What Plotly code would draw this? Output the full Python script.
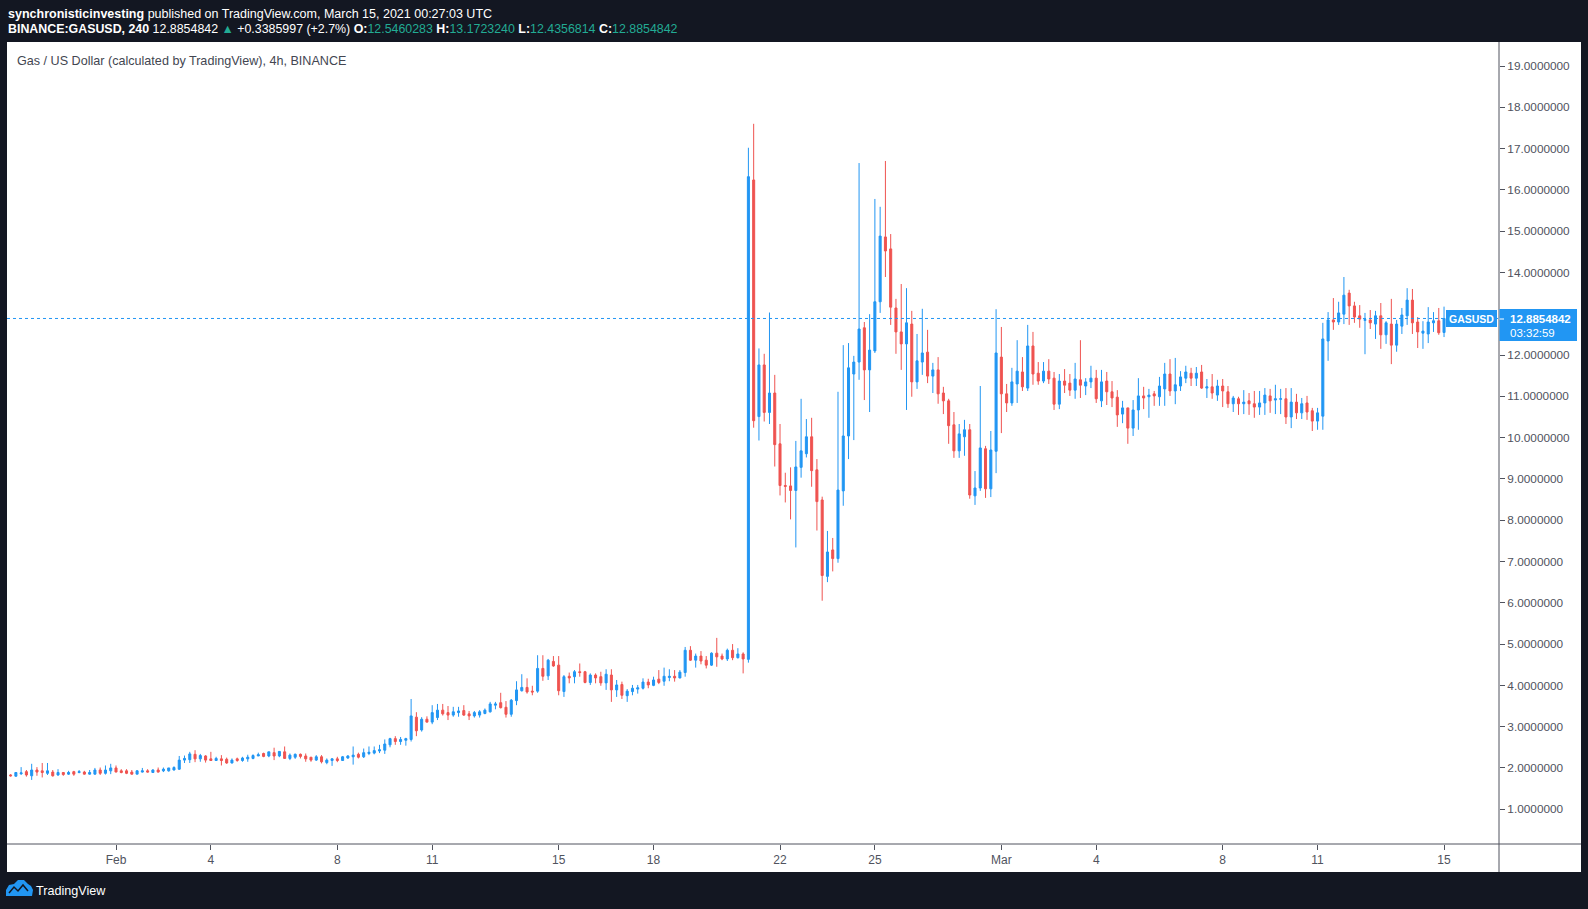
import pandas as pd
import plotly.graph_objects as go

# ---------------- data (4h candles, GAS/USD) ----------------
start_time = "2021-01-28 16:00"
opens = [1.83,1.80,1.86,1.91,1.81,1.95,1.93,1.87,1.90,1.83,1.89,1.85,1.91,1.89,1.90,1.85,1.85,1.95,1.87,1.93,
 2.00,1.93,1.93,1.90,1.85,1.90,1.93,1.89,1.95,1.93,1.93,1.95,1.97,2.19,2.20,2.33,2.22,2.29,2.22,2.18,
 2.22,2.21,2.12,2.22,2.18,2.22,2.23,2.29,2.35,2.29,2.37,2.29,2.39,2.23,2.26,2.33,2.29,2.26,2.19,2.27,
 2.13,2.18,2.22,2.18,2.24,2.27,2.33,2.27,2.35,2.36,2.41,2.43,2.56,2.71,2.64,2.67,2.69,3.23,2.92,3.18,
 3.11,3.22,3.40,3.34,3.28,3.34,3.39,3.31,3.26,3.28,3.32,3.36,3.52,3.58,3.47,3.30,3.63,3.87,3.95,3.86,
 3.86,4.41,4.23,4.58,4.49,3.85,4.22,4.21,4.33,4.33,4.07,4.25,4.21,4.06,4.25,3.89,4.02,3.75,3.85,3.91,
 3.93,4.08,4.00,4.15,4.10,4.19,4.22,4.18,4.31,4.85,4.61,4.71,4.61,4.49,4.78,4.71,4.64,4.85,4.67,4.76,
 4.63,16.24,10.51,11.76,10.61,11.08,9.85,8.84,8.83,8.72,9.28,9.61,10.02,9.22,8.49,6.64,7.28,7.07,8.71,10.04,
 11.54,11.83,12.66,11.64,12.10,13.29,14.86,14.57,13.14,12.56,12.27,12.75,11.35,11.83,12.07,11.49,11.64,11.08,10.89,10.31,
 9.68,10.02,10.19,8.59,8.78,9.73,8.76,9.67,11.95,11.06,10.84,11.30,11.59,11.20,12.22,11.56,11.37,11.61,11.44,10.81,
 11.37,11.32,11.15,11.40,11.25,11.35,11.44,10.89,11.37,11.11,10.98,10.57,10.72,10.23,10.67,11.01,10.99,11.06,10.99,11.18,
 11.54,11.13,11.25,11.44,11.56,11.44,11.59,11.20,11.23,11.03,11.25,11.11,10.82,10.94,10.82,10.89,10.82,10.74,10.84,11.01,
 10.91,10.93,10.94,10.50,10.86,10.60,10.84,10.65,10.40,10.52,12.34,12.85,12.80,12.99,13.50,13.19,12.95,12.84,12.85,12.75,
 12.95,12.49,12.75,12.24,12.70,12.95,13.33,12.80,12.53,12.51,12.78,12.83,12.5460283]
highs = [1.85,1.90,2.02,1.95,2.10,2.02,2.12,2.12,1.95,1.97,1.90,1.93,1.93,1.95,1.93,1.95,2.00,2.01,2.06,2.10,
 2.06,1.97,1.97,1.95,1.95,2.00,1.97,1.97,2.01,2.01,2.00,2.04,2.29,2.30,2.39,2.43,2.34,2.31,2.39,2.27,
 2.31,2.25,2.23,2.25,2.27,2.32,2.33,2.37,2.37,2.39,2.49,2.41,2.52,2.35,2.35,2.35,2.35,2.26,2.31,2.31,
 2.23,2.24,2.27,2.29,2.31,2.52,2.37,2.47,2.52,2.52,2.56,2.69,2.73,2.77,2.75,2.73,3.67,3.35,3.23,3.25,
 3.52,3.55,3.55,3.50,3.48,3.48,3.52,3.38,3.38,3.40,3.44,3.60,3.60,3.82,3.62,3.67,4.10,4.27,4.17,3.99,
 4.73,4.73,4.64,4.71,4.71,4.25,4.31,4.37,4.53,4.35,4.29,4.29,4.33,4.39,4.39,4.13,4.09,3.91,4.01,4.01,
 4.17,4.16,4.21,4.37,4.43,4.39,4.37,4.37,4.93,4.95,4.77,4.83,4.71,4.80,5.15,4.77,4.89,5.00,4.90,4.80,
 17.02,17.60,12.16,12.03,13.03,11.52,10.33,9.15,9.28,9.92,10.94,10.45,10.48,9.48,8.57,7.74,7.57,11.11,12.24,12.29,
 11.98,16.65,12.80,12.99,15.78,15.59,16.70,14.93,13.36,13.72,13.62,13.07,12.51,13.12,12.61,11.81,11.95,11.23,10.94,10.62,
 10.33,10.43,10.33,9.19,11.25,9.80,10.16,13.11,12.68,11.30,11.69,12.36,11.95,12.73,12.56,11.83,11.83,11.90,11.59,11.54,
 11.66,11.54,11.81,12.36,11.44,11.74,11.64,11.64,11.59,11.37,11.15,10.89,10.72,10.91,11.44,11.23,11.18,11.13,11.47,11.81,
 11.90,11.93,11.61,11.74,11.69,11.71,11.76,11.42,11.54,11.40,11.42,11.25,11.01,10.99,11.15,11.08,11.13,11.13,11.20,11.18,
 11.28,11.18,11.20,11.20,11.06,10.96,11.01,10.72,10.72,12.78,13.04,13.38,13.29,13.89,13.58,13.29,13.21,13.02,13.09,13.07,
 13.26,12.82,13.36,12.85,13.14,13.62,13.60,12.92,12.82,13.16,13.04,13.14,13.1723240]
lows = [1.79,1.79,1.83,1.79,1.71,1.81,1.77,1.83,1.79,1.81,1.81,1.83,1.81,1.87,1.84,1.84,1.84,1.83,1.84,1.85,
 1.90,1.87,1.85,1.84,1.85,1.89,1.89,1.89,1.89,1.90,1.91,1.94,1.95,2.12,2.12,2.14,2.15,2.13,2.17,2.17,
 2.06,2.10,2.11,2.15,2.15,2.15,2.21,2.29,2.26,2.26,2.19,2.26,2.23,2.19,2.22,2.23,2.15,2.15,2.17,2.11,
 2.09,2.05,2.14,2.17,2.22,2.08,2.23,2.24,2.31,2.33,2.36,2.34,2.50,2.56,2.56,2.54,2.64,2.77,2.88,3.10,
 3.06,3.16,3.27,3.16,3.24,3.24,3.26,3.16,3.22,3.22,3.30,3.34,3.42,3.44,3.22,3.24,3.52,3.85,3.80,3.76,
 3.82,4.11,4.13,4.45,3.76,3.72,4.05,4.05,4.21,4.05,4.01,4.05,3.99,3.89,3.60,3.72,3.67,3.60,3.76,3.80,
 3.90,3.93,3.98,4.03,3.99,4.10,4.09,4.17,4.21,4.59,4.43,4.51,4.41,4.47,4.45,4.61,4.59,4.61,4.65,4.29,
 4.55,10.24,9.93,10.39,10.33,9.30,8.60,8.43,8.02,7.34,9.03,9.52,8.81,7.75,6.05,6.50,6.76,6.97,8.35,9.48,
 9.94,11.40,10.91,10.62,12.05,13.02,13.89,12.73,12.03,11.64,10.67,10.99,11.18,11.52,11.32,11.08,10.82,10.57,9.85,9.51,
 9.51,9.56,8.52,8.37,8.71,8.54,8.56,9.14,10.11,10.62,10.77,10.84,11.13,11.13,11.28,11.28,11.32,11.30,10.67,10.69,
 11.08,11.01,10.94,10.96,11.03,11.20,10.84,10.74,10.79,10.74,10.26,10.35,9.85,10.04,10.19,10.69,10.48,10.77,10.77,10.77,
 11.01,10.81,11.13,11.32,11.25,11.25,11.18,10.96,10.94,10.89,10.74,10.72,10.62,10.55,10.57,10.55,10.48,10.55,10.55,10.60,
 10.57,10.57,10.33,10.23,10.45,10.45,10.43,10.16,10.19,10.19,11.86,12.61,12.73,12.75,12.73,12.78,12.66,12.02,12.63,12.39,
 12.15,12.27,11.78,12.08,12.51,12.73,12.51,12.17,12.15,12.29,12.56,12.49,12.4356814]
closes = [1.81,1.89,1.88,1.83,1.95,1.90,1.89,1.93,1.81,1.89,1.84,1.89,1.85,1.91,1.85,1.89,1.95,1.87,1.95,2.00,
 1.90,1.89,1.87,1.85,1.93,1.93,1.90,1.95,1.90,1.97,2.00,2.01,2.19,2.23,2.34,2.22,2.30,2.19,2.18,2.23,
 2.18,2.12,2.19,2.18,2.24,2.26,2.30,2.32,2.28,2.39,2.29,2.40,2.23,2.31,2.33,2.28,2.22,2.19,2.27,2.15,
 2.19,2.22,2.18,2.27,2.29,2.31,2.26,2.37,2.38,2.42,2.44,2.58,2.71,2.64,2.69,2.71,3.26,2.90,3.18,3.11,
 3.34,3.40,3.31,3.28,3.36,3.38,3.28,3.26,3.34,3.36,3.40,3.55,3.55,3.46,3.30,3.64,3.89,3.95,3.84,3.84,
 4.41,4.22,4.61,4.47,3.87,4.21,4.18,4.33,4.31,4.07,4.25,4.18,4.06,4.27,3.89,4.01,3.76,3.86,3.93,3.94,
 4.08,4.01,4.13,4.07,4.22,4.22,4.18,4.32,4.85,4.61,4.71,4.59,4.49,4.78,4.69,4.64,4.85,4.67,4.76,4.64,
 16.32,10.41,11.76,10.61,11.08,9.83,8.84,8.82,8.72,9.29,9.68,10.02,9.20,8.45,6.66,7.23,7.07,8.73,10.04,11.69,
 11.83,12.63,11.64,12.12,13.29,14.88,14.52,13.16,12.56,12.27,12.78,11.35,11.86,12.05,11.49,11.64,11.06,10.89,10.29,9.68,
 10.09,10.19,8.61,8.78,9.75,8.76,9.70,12.05,11.06,10.84,11.35,11.61,11.23,12.22,11.54,11.37,11.61,11.42,10.81,11.37,
 11.27,11.15,11.42,11.27,11.35,11.44,10.94,11.35,11.11,10.96,10.55,10.72,10.23,10.67,11.01,10.96,11.03,11.01,11.25,11.54,
 11.13,11.28,11.47,11.59,11.44,11.56,11.20,11.23,11.08,11.25,11.13,10.82,10.96,10.82,10.86,10.82,10.74,10.84,11.03,10.89,
 10.94,10.94,10.50,10.86,10.60,10.82,10.62,10.40,10.60,12.39,12.85,12.80,13.02,13.45,13.19,12.92,12.87,12.86,12.78,12.95,
 12.49,12.78,12.24,12.75,12.97,13.33,12.78,12.56,12.58,12.80,12.83,12.54,12.8854842]

last_price = 12.8854842
y_ticks = list(range(1, 20))
x_tick_dates = ["2021-02-01", "2021-02-04", "2021-02-08", "2021-02-11", "2021-02-15", "2021-02-18",
                "2021-02-22", "2021-02-25", "2021-03-01", "2021-03-04", "2021-03-08", "2021-03-11", "2021-03-15"]
x_tick_labels = ["Feb", "4", "8", "11", "15", "18", "22", "25", "Mar", "4", "8", "11", "15"]

times = pd.date_range(start_time, periods=len(closes), freq="4h")

# ---------------- layout helpers ----------------
W, H = 1588, 909
L, R, T, B = 7, 1499, 44, 844


def px(x):
    return (x - L) / (R - L)


def py(y):
    return (B - y) / (B - T)


UP = "#2196f3"
DOWN = "#ef5350"
AXIS = "#50535e"
TEXTC = "#50535e"
SANS = "Liberation Sans, Arial, sans-serif"

fig = go.Figure()
fig.add_trace(go.Candlestick(
    x=times, open=opens, high=highs, low=lows, close=closes,
    increasing=dict(line=dict(color=UP, width=1), fillcolor=UP),
    decreasing=dict(line=dict(color=DOWN, width=1), fillcolor=DOWN),
    whiskerwidth=0, showlegend=False, hoverinfo="skip",
))

shapes = []
# white panel
shapes.append(dict(type="rect", xref="paper", yref="paper", x0=px(7), x1=px(1581), y0=py(872), y1=py(42),
                   fillcolor="white", line=dict(width=0), layer="below"))
# last price dotted line
shapes.append(dict(type="line", xref="paper", yref="y", x0=0, x1=1, y0=last_price, y1=last_price,
                   line=dict(color=UP, width=1, dash="dot"), layer="above"))
# axis lines
shapes.append(dict(type="line", xref="paper", yref="paper", x0=px(7), x1=px(1581), y0=py(844), y1=py(844),
                   line=dict(color=AXIS, width=1), layer="above"))
shapes.append(dict(type="line", xref="paper", yref="paper", x0=px(1499), x1=px(1499), y0=py(872), y1=py(42),
                   line=dict(color=AXIS, width=1), layer="above"))
# price label boxes
shapes.append(dict(type="rect", xref="paper", yref="paper", x0=px(1499.5), x1=px(1577), y0=py(341), y1=py(309),
                   fillcolor=UP, line=dict(width=0), layer="above"))
shapes.append(dict(type="line", xref="paper", yref="paper", x0=px(1499.5), x1=px(1504), y0=py(319), y1=py(319),
                   line=dict(color="white", width=1), layer="above"))
shapes.append(dict(type="rect", xref="paper", yref="paper", x0=px(1446), x1=px(1497), y0=py(327), y1=py(310),
                   fillcolor=UP, line=dict(width=0), layer="above"))
# TradingView logo (simplified cloud)
cloud = [(6, 896), (6, 890), (9, 885), (14, 884), (18, 880), (24, 880), (28, 884), (31, 886), (33, 890), (32, 896)]
path = "M " + " L ".join("{:.5f},{:.5f}".format(px(a), py(b)) for a, b in cloud) + " Z"
shapes.append(dict(type="path", xref="paper", yref="paper", path=path, fillcolor="#2196f3",
                   line=dict(width=0), layer="above"))
zig = [(9, 893), (14, 887), (18, 891), (23, 885), (28, 891)]
zpath = "M " + " L ".join("{:.5f},{:.5f}".format(px(a), py(b)) for a, b in zig)
shapes.append(dict(type="path", xref="paper", yref="paper", path=zpath,
                   line=dict(color="#131722", width=1.5), layer="above"))

teal = "#22ab94"
ann = []
ann.append(dict(xref="paper", yref="paper", x=px(6), y=py(13.5), xanchor="left", yanchor="middle",
                text="<b>synchronisticinvesting</b> published on TradingView.com, March 15, 2021 00:27:03 UTC",
                showarrow=False, font=dict(family=SANS, size=12.5, color="#ffffff")))
line2 = ("<b>BINANCE:GASUSD, 240</b> 12.8854842 <span style='color:%s'>▲</span> +0.3385997 (+2.7%%) "
         "<b>O:</b><span style='color:%s'>12.5460283</span> <b>H:</b><span style='color:%s'>13.1723240</span> "
         "<b>L:</b><span style='color:%s'>12.4356814</span> <b>C:</b><span style='color:%s'>12.8854842</span>"
         % (teal, teal, teal, teal, teal))
ann.append(dict(xref="paper", yref="paper", x=px(6), y=py(29), xanchor="left", yanchor="middle",
                text=line2, showarrow=False, font=dict(family=SANS, size=12.4, color="#ffffff")))
ann.append(dict(xref="paper", yref="paper", x=px(15), y=py(60.5), xanchor="left", yanchor="middle",
                text="Gas / US Dollar (calculated by TradingView), 4h, BINANCE", showarrow=False,
                font=dict(family=SANS, size=12.6, color="#434651")))
ann.append(dict(xref="paper", yref="paper", x=px(1471.5), y=py(318.5), xanchor="center", yanchor="middle",
                text="<b>GASUSD</b>", showarrow=False, font=dict(family=SANS, size=10.5, color="white")))
ann.append(dict(xref="paper", yref="paper", x=px(1508), y=py(318.5), xanchor="left", yanchor="middle",
                text="12.8854842", showarrow=False, font=dict(family=SANS, size=11.5, color="white", weight=600)))
ann.append(dict(xref="paper", yref="paper", x=px(1508), y=py(332.5), xanchor="left", yanchor="middle",
                text="03:32:59", showarrow=False, font=dict(family=SANS, size=11.5, color="white")))
ann.append(dict(xref="paper", yref="paper", x=px(34), y=py(891), xanchor="left", yanchor="middle",
                text="TradingView", showarrow=False, font=dict(family=SANS, size=12.6, color="#ffffff")))

y_text = ["%.7f" % v if v != 13 else "" for v in y_ticks]

fig.update_layout(
    width=W, height=H,
    margin=dict(l=L, r=W - R, t=T, b=H - B, pad=0),
    paper_bgcolor="#131722", plot_bgcolor="white",
    boxgap=0.45,
    showlegend=False,
    shapes=shapes, annotations=ann,
    xaxis=dict(type="date", range=["2021-01-28 13:16", "2021-03-16 17:43"],
               rangeslider=dict(visible=False), showgrid=False, zeroline=False, showline=False,
               tickvals=x_tick_dates, ticktext=x_tick_labels, ticks="outside", ticklen=5,
               tickcolor=AXIS, tickfont=dict(family=SANS, size=12, color=TEXTC)),
    yaxis=dict(side="right", range=[0.158, 19.533], showgrid=False, zeroline=False, showline=False,
               tickvals=y_ticks, ticktext=y_text, ticks="outside", ticklen=5,
               tickcolor=AXIS, tickfont=dict(family=SANS, size=11.8, color=TEXTC)),
)

fig.write_html("out.html", config={"displayModeBar": False, "staticPlot": True},
               post_script="document.body.style.margin='0';document.body.style.overflow='hidden';")
